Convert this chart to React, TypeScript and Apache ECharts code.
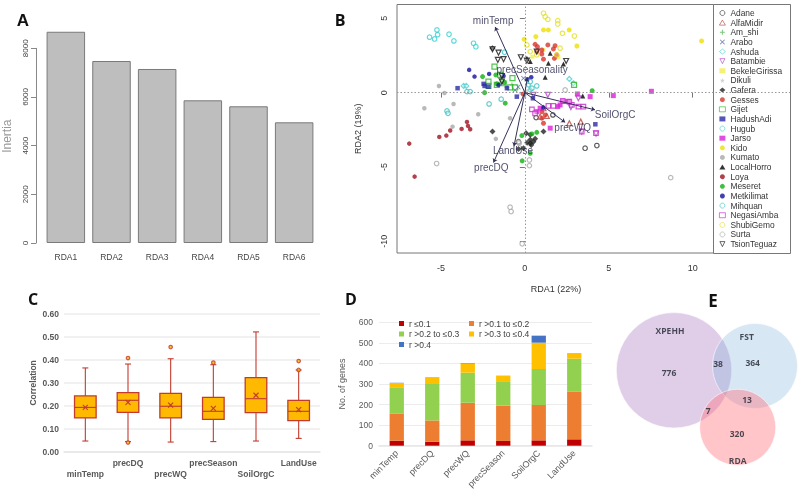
import React, { useEffect, useRef } from "react";
import * as echarts from "echarts";

// Panel A
const rdaAxes = ["RDA1", "RDA2", "RDA3", "RDA4", "RDA5", "RDA6"];
const inertia = [8680, 7478, 7150, 5863, 5617, 4959];

// Panel B
const adane = [[3.59,-3.74],[4.29,-3.56],[0.67,-1.68],[1.67,-1.5],[-0.38,-3.3]];
const alfaMidir = [[2.65,-2.06],[3.33,-1.95],[1.31,-1.57],[0.91,-1.61],[1.11,-1.05]];
const amShi = [[-1.07,0.36],[-0.77,0.52],[-1.47,0.97]];
const arabo = [[-0.4,0.38],[-0.58,0.18],[-0.08,0.97]];
const ashuda = [[0.21,0.52],[0.32,0.18],[2.65,0.92],[2.89,0.63],[-3.65,0.45],[-3.49,0.45]];
const batambie = [[1.37,-0.15],[3.19,-0.38],[2.74,-0.98],[3.39,-2.62],[4.24,-2.76],[0.51,-0.15]];
const bekeleGirissa = [[0.45,2.42],[1.11,2.87],[2,2.38]];
const dikuli = [[-0.25,-0.05],[0.1,0.1],[0,-0.2]];
const gafera = [[-1.93,-2.62],[1.11,-2.62],[-1.93,2.99],[0.32,-3.17],[0.14,-3.38],[0.38,-3.52],[0.61,-3.11],[0.08,-2.73],[0.32,-3.4],[-0.38,-3.79],[-0.08,-3.74],[0.32,-2.84],[0.51,-3.3]];
const gesses = [[0.61,3.25],[0.75,3.09],[1.37,3.21],[1.8,3.16],[1.7,2.94],[1.01,2.87],[0.71,2.76],[1.11,2.25],[1.76,2.31],[1.9,2.54],[1.01,2.6],[1.01,-1.28],[1.21,-1.5],[1.01,-1.72],[1.11,-2.06],[-0.1,-0.1]];
const gijet = [[-1.81,1.75],[-0.74,0.97],[-2.17,0.74],[-2.17,0.45],[-1.47,1.19],[-1.27,0.63],[-1.67,0.52],[-0.87,0.36],[-0.58,0.36],[2.93,0.52]];
const hadushAdi = [[-4.01,0.3],[-2.46,0.59],[-2.4,0.45],[-2.17,0.4],[-1.07,0.3],[-0.48,-0.27],[0.48,-0.38],[4.2,-2.13]];
const hugub = [[-5.68,3.73],[-5.38,3.61],[-5.2,3.9],[-5.24,4.22],[-4.52,3.93],[-4.23,3.48],[-3.06,3.32],[-2.92,3.09],[-1.21,2.72]];
const jarso = [[5.27,-0.2],[7.54,0.09],[3.89,-0.27],[3.13,-0.09],[2.6,-0.6],[2.3,-0.6],[2.1,-0.83],[1.96,-0.94],[1.51,-2.39],[0.91,-1.05],[0.71,-1.28]];
const kido = [[-0.04,3.59],[0.65,3.77],[1.11,4.22],[1.4,4.22],[2.64,4.22],[10.53,3.48],[3.1,3.14]];
const kumato = [[-5.12,0.45],[-4.79,-0.02],[-5.99,-1.05],[-4.25,-0.76],[-2.78,-1.45],[-4.31,-2.29],[-1.73,-3.11],[-0.88,-1.72]];
const localHorro = [[1.51,2.65],[2.3,1.93],[0.32,2.09],[1.4,1.98],[1.21,1.04],[0.12,2.31],[3.45,-0.22]];
const loya = [[-6.89,-3.43],[-6.57,-5.65],[-5.1,-2.98],[-4.68,-2.89],[-4.45,-2.55],[-3.77,-2.44],[-3.45,-1.97],[-3.39,-2.24],[-3.26,-2.46]];
const meseret = [[-2.52,1.08],[-2.4,0],[-1.73,1.19],[-1.23,0.67],[-1.17,-0.71],[-1.67,0.59],[4.01,0.13],[-0.16,-4.59],[0.42,-2.78],[-0.18,-2.89],[0.71,-2.67],[0.32,-4.08]];
const metkilimat = [[-3.32,1.53],[-3,1.08],[-2.13,1.26],[-1.27,1.12],[-1.57,0.52],[0.15,0.9],[0.38,1.04],[1.11,-1.01]];
const mihquan = [[-3.45,0.07],[-3.26,0.07],[-2.13,-0.76],[-1.41,-0.44],[0.32,0.74],[0.71,0.45],[0.42,0.3],[-4.64,-1.23],[-4.58,-1.39]];
const negasiAmba = [[0.42,-1.12],[0.61,-1.39],[1.4,-0.89],[1.7,-0.89],[2.8,-0.83],[3.19,-0.94],[3.49,-0.94],[3.39,-2.62],[4.24,-2.73],[2.65,-0.6],[2.26,-0.56]];
const shubiGemo = [[1.11,5.34],[1.21,5.11],[1.37,4.93],[1.96,4.84],[1.96,4.62],[2.24,3.99],[2.95,3.81],[0.12,3.21],[0.32,2.76],[0.71,2.54],[2.1,2.99],[1.9,2.54]];
const surta = [[2.4,0.18],[-0.88,-7.71],[-0.82,-8],[-0.16,-10.17],[-5.26,-4.77],[-0.34,-3.4],[0.27,-4.53],[0.27,-4.91],[8.69,-5.72],[-0.38,-3.33]];
const tsionTeguaz = [[-1.57,2.69],[-1.27,2.25],[-1.61,2.2],[-0.24,2.38],[0.12,2.15],[2.46,2.13],[0.71,2.76],[-1.93,2.92],[-1.37,1.12],[-1.37,0.74]];

const envNames = ["minTemp", "precSeasonality", "SoilOrgC", "precWQ", "LandUse", "precDQ"];
const envTips = [[-1.77,4.42],[0.15,1.0],[4.18,-1.16],[2.4,-2.0],[-0.65,-3.6],[-1.87,-4.7]];
const envLabelAt = [[-1.89,4.84],[0.43,1.53],[5.38,-1.5],[2.85,-2.35],[-0.71,-3.92],[-2.0,-5.04]];
const rdaTicksX = [-5, 0, 5, 10];
const rdaTicksY = [-10, -5, 0, 5];

// Panel C
const envCats = ["minTemp", "precDQ", "precWQ", "precSeason", "SoilOrgC", "LandUse"];
const whiskerLow = [0.0465, 0.044, 0.042, 0.044, 0.0465, 0.058];
const quart1 = [0.147, 0.171, 0.147, 0.141, 0.17, 0.135];
const medians = [0.193, 0.224, 0.198, 0.176, 0.231, 0.176];
const quart3 = [0.243, 0.257, 0.254, 0.237, 0.323, 0.224];
const whiskerHigh = [0.365, 0.382, 0.405, 0.379, 0.522, 0.356];
const means = [0.193, 0.215, 0.203, 0.189, 0.246, 0.183];
const outliers = [[1, 0.408], [1, 0.04], [2, 0.456], [3, 0.388], [5, 0.395], [5, 0.356]];

// Panel D
const geneCats = ["minTemp", "precDQ", "precWQ", "precSeason", "SoilOrgC", "LandUse"];
const rBin1 = [24, 19, 26, 23, 26, 31];
const rBin2 = [133, 104, 183, 172, 172, 233];
const rBin3 = [127, 177, 146, 115, 175, 159];
const rBin4 = [21, 32, 45, 29, 128, 26];
const rBin5 = [1, 1, 2, 1, 34, 1];

// Panel E
const vennNames = ["XPEHH", "FST", "RDA"];
const vennPoints = [[74, 85.3], [155, 81], [137.7, 142.3]];
const vennDiameters = [115.4, 85, 76];
const vennTexts = ["XPEHH", "776", "FST", "364", "38", "13", "7", "320", "RDA"];
const vennTextAt = [[70,45],[69,87],[146.7,51.7],[152.7,77],[118,78.7],[147,114.7],[108.3,125],[137,148.3],[137.7,175.7]];

const invTri = "path://M0 0H10L5 10Z";
const plus = "path://M4 0H6V4H10V6H6V10H4V6H0V4H4Z";
const cross = "path://M1 0L5 4L9 0L10 1L6 5L10 9L9 10L5 6L1 10L0 9L4 5L0 1Z";
const star = "path://M5 0L6.2 3.5L10 3.6L7 6L8 10L5 7.6L2 10L3 6L0 3.6L3.8 3.5Z";

type Site = [string, number[][], string, string, boolean, number];
const sites: Site[] = [
  ["Adane", adane, "circle", "#333333", true, 4.5],
  ["AlfaMidir", alfaMidir, "triangle", "#B0463E", true, 5],
  ["Am_shi", amShi, plus, "#5CB85C", false, 5],
  ["Arabo", arabo, cross, "#3F4D9E", false, 5],
  ["Ashuda", ashuda, "diamond", "#4FCFCF", true, 5],
  ["Batambie", batambie, invTri, "#B040C8", true, 5],
  ["BekeleGirissa", bekeleGirissa, "rect", "#F2EE50", false, 4],
  ["Dikuli", dikuli, star, "#C8C8C8", false, 5],
  ["Gafera", gafera, "diamond", "#222222", false, 6],
  ["Gesses", gesses, "circle", "#D9352A", false, 5],
  ["Gijet", gijet, "rect", "#25B525", true, 5],
  ["HadushAdi", hadushAdi, "rect", "#2A2AA8", false, 4.5],
  ["Hugub", hugub, "circle", "#35D0D0", true, 4.5],
  ["Jarso", jarso, "rect", "#D820D8", false, 5],
  ["Kido", kido, "circle", "#EEE000", false, 5],
  ["Kumato", kumato, "circle", "#A8A8A8", false, 4.5],
  ["LocalHorro", localHorro, "triangle", "#000000", false, 5],
  ["Loya", loya, "circle", "#A01020", false, 4.5],
  ["Meseret", meseret, "circle", "#10B010", false, 5],
  ["Metkilimat", metkilimat, "circle", "#1010A0", false, 4.5],
  ["Mihquan", mihquan, "circle", "#40C0C0", true, 4.5],
  ["NegasiAmba", negasiAmba, "rect", "#C828C8", true, 4.5],
  ["ShubiGemo", shubiGemo, "circle", "#E2E020", true, 4.5],
  ["Surta", surta, "circle", "#A8A8A8", true, 4.5],
  ["TsionTeguaz", tsionTeguaz, invTri, "#111111", true, 5],
];

const sans = "Liberation Sans";
const grey = "#595959";
const boxLine = "#C23B2E";

const letter = (t: string, x: number, y: number, size = 16, font = "Open Sans") => ({
  type: "text", x, y, z: 10,
  style: { text: t, fill: "#111", font: `bold ${size}px "${font}"`, textAlign: "center", textVerticalAlign: "middle" },
});

function buildOption() {
  const series: any[] = [];

  series.push({
    name: "Inertia", type: "bar", xAxisIndex: 0, yAxisIndex: 0, data: inertia, barWidth: 38.5, clip: false,
    itemStyle: { color: "#BEBEBE", borderColor: "#7A7A7A", borderWidth: 1 }, silent: true,
  });

  series.push({
    name: "zero", type: "scatter", xAxisIndex: 1, yAxisIndex: 1, data: [[0, 0]], symbolSize: 0, silent: true, z: 1,
    markLine: {
      silent: true, symbol: "none", label: { show: false }, animation: false,
      lineStyle: { color: "#999", type: [1.5, 2], width: 1 },
      data: [{ xAxis: 0 }, { yAxis: 0 }],
    },
  });
  sites.forEach(([name, data, symbol, color, hollow, size]) => {
    series.push({
      name, type: "scatter", xAxisIndex: 1, yAxisIndex: 1, data, symbol, symbolSize: size, silent: true,
      itemStyle: hollow
        ? { color: "rgba(255,255,255,0.4)", borderColor: color, borderWidth: 1.2 }
        : { color, borderWidth: 0 },
    });
  });
  series.push({
    name: "env", type: "scatter", xAxisIndex: 1, yAxisIndex: 1, symbolSize: 0, silent: true, z: 3,
    data: envLabelAt.map((value, i) => ({ value, name: envNames[i] })),
    label: {
      show: true, position: "inside", formatter: "{b}", color: "#26264A",
      fontFamily: sans, fontSize: 10,
    },
    markLine: {
      silent: true, symbol: ["none", "arrow"], symbolSize: 4, label: { show: false }, animation: false, precision: 4,
      lineStyle: { color: "#33335A", type: "solid", width: 1 },
      data: envTips.map((t) => [{ coord: [0, 0] }, { coord: t }]),
    },
  });

  series.push({
    name: "correlation", type: "custom", xAxisIndex: 2, yAxisIndex: 2, silent: true,
    data: envCats.map((_, i) => [i, whiskerLow[i], quart1[i], medians[i], quart3[i], whiskerHigh[i], means[i]]),
    encode: { x: 0, y: [1, 2, 3, 4, 5, 6] },
    renderItem: (_: any, api: any) => {
      const i = api.value(0);
      const X = api.coord([i, 0])[0];
      const Y = (k: number) => api.coord([i, api.value(k)])[1];
      const ln = (x1: number, y1: number, x2: number, y2: number, w = 1.1) => ({
        type: "line", shape: { x1, y1, x2, y2 }, style: { stroke: boxLine, lineWidth: w },
      });
      const hw = 10.8, cap = 3;
      const m = Y(6);
      return {
        type: "group",
        children: [
          ln(X, Y(1), X, Y(2)), ln(X, Y(4), X, Y(5)),
          ln(X - cap, Y(1), X + cap, Y(1)), ln(X - cap, Y(5), X + cap, Y(5)),
          { type: "rect", shape: { x: X - hw, y: Y(4), width: 2 * hw, height: Y(2) - Y(4) },
            style: { fill: "#FFB900", stroke: boxLine, lineWidth: 1.3 } },
          ln(X - hw, Y(3), X + hw, Y(3)),
          ln(X - 2.5, m - 2.5, X + 2.5, m + 2.5), ln(X - 2.5, m + 2.5, X + 2.5, m - 2.5),
        ],
      };
    },
  });
  series.push({
    name: "outliers", type: "scatter", xAxisIndex: 2, yAxisIndex: 2, data: outliers, symbolSize: 3.5, silent: true,
    itemStyle: { color: "#F7B500", borderColor: boxLine, borderWidth: 1.2 },
  });

  const bins: [string, number[], string][] = [
    ["r ≤0.1", rBin1, "#C00000"],
    ["r >0.1 to ≤0.2", rBin2, "#ED7D31"],
    ["r >0.2 to ≤0.3", rBin3, "#92D050"],
    ["r >0.3 to ≤0.4", rBin4, "#FFC000"],
    ["r >0.4", rBin5, "#4472C4"],
  ];
  bins.forEach(([name, data, color]) => {
    series.push({
      name, type: "bar", xAxisIndex: 3, yAxisIndex: 3, stack: "genes", data, barWidth: 14.3, silent: true,
      itemStyle: { color },
    });
  });

  series.push({
    name: "venn", type: "scatter", xAxisIndex: 4, yAxisIndex: 4, silent: true,
    data: vennNames.map((name, i) => ({
      name, value: vennPoints[i], symbolSize: vennDiameters[i],
      itemStyle: {
        color: ["rgba(170,120,195,0.45)", "rgba(120,170,215,0.36)", "rgba(255,110,120,0.5)"][i],
        borderColor: "rgba(255,255,255,0.7)", borderWidth: 1,
      },
    })),
  });
  series.push({
    name: "vennText", type: "scatter", xAxisIndex: 4, yAxisIndex: 4, silent: true, symbolSize: 0, z: 4,
    data: vennTexts.map((name, i) => ({ name, value: vennTextAt[i] })),
    label: { show: true, position: "inside", formatter: "{b}", color: "#1F2430", fontFamily: "Open Sans", fontWeight: "bold", fontSize: 8.5 },
  });

  return {
    animation: false,
    backgroundColor: "#fff",
    graphic: [
      { type: "rect", z: 3, shape: { x: 713.5, y: 4.5, width: 77, height: 249 }, style: { fill: "#fff", stroke: "#777", lineWidth: 1 } },
      letter("A", 23, 20, 17, "Liberation Sans"),
      letter("B", 340, 20),
      letter("C", 33, 299),
      letter("D", 351, 299),
      letter("E", 713, 300, 17),
    ],
    legend: [
      {
        data: sites.map((s) => s[0]), orient: "vertical", left: 719, top: 9, padding: 0, itemWidth: 6, itemHeight: 5, itemGap: 1.63,
        selectedMode: false, textStyle: { fontFamily: sans, fontSize: 8.4, color: "#333" }, itemStyle: { borderWidth: 0.8 },
      },
      {
        data: ["r ≤0.1", "r >0.2 to ≤0.3", "r >0.4"], orient: "vertical", left: 399, top: 319, padding: 0, itemWidth: 5, itemHeight: 5, itemGap: 1.5,
        selectedMode: false, icon: "rect", textStyle: { fontFamily: sans, fontSize: 8.5, color: "#404040" },
      },
      {
        data: ["r >0.1 to ≤0.2", "r >0.3 to ≤0.4"], orient: "vertical", left: 469, top: 319, padding: 0, itemWidth: 5, itemHeight: 5, itemGap: 1.5,
        selectedMode: false, icon: "rect", textStyle: { fontFamily: sans, fontSize: 8.5, color: "#404040" },
      },
    ],
    grid: [
      { left: 43, top: 48.3, width: 274, height: 194.7 },
      { left: 397, top: 4.5, width: 393, height: 248.5, show: true, backgroundColor: "#fff", borderColor: "#777", borderWidth: 1 },
      { left: 64, top: 314, width: 256, height: 137.7 },
      { left: 379, top: 322.3, width: 213, height: 123.4 },
      { left: 600, top: 285, width: 200, height: 208 },
    ],
    xAxis: [
      {
        gridIndex: 0, type: "category", data: rdaAxes, axisLine: { show: false }, axisTick: { show: false },
        axisLabel: { margin: 9, fontFamily: sans, fontSize: 8.5, color: "#444" },
      },
      {
        gridIndex: 1, type: "value", min: -7.62, max: 15.8, axisLine: { show: false }, splitLine: { show: false },
        name: "RDA1 (22%)", nameLocation: "middle", nameGap: 31,
        nameTextStyle: { fontFamily: sans, fontSize: 9, color: "#333", padding: [0, 75, 0, 0] },
        axisTick: { length: 5, lineStyle: { color: "#777" }, customValues: rdaTicksX },
        axisLabel: { margin: 10, fontFamily: sans, fontSize: 9, color: "#333", customValues: rdaTicksX },
      },
      {
        gridIndex: 2, type: "category", data: envCats, axisLine: { lineStyle: { color: "#E6E6E6", width: 1.5 } }, axisTick: { show: false },
        axisLabel: {
          interval: 0, margin: 6, lineHeight: 11, fontFamily: sans, fontSize: 8.5, fontWeight: "bold", color: grey, hideOverlap: false,
          formatter: (v: string, i: number) => (i % 2 === 0 ? "\n" + v : v),
        },
      },
      {
        gridIndex: 3, type: "category", data: geneCats, axisLine: { lineStyle: { color: "#E6E6E6", width: 1.5 } }, axisTick: { show: false },
        axisLabel: { interval: 0, rotate: 45, margin: 6, fontFamily: sans, fontSize: 9, color: grey },
      },
      { gridIndex: 4, type: "value", min: 0, max: 200, show: false },
    ],
    yAxis: [
      {
        gridIndex: 0, type: "value", min: 0, max: 8000, interval: 2000, offset: 7, splitLine: { show: false },
        name: "Inertia", nameLocation: "middle", nameGap: 23, nameRotate: 90,
        nameTextStyle: { fontFamily: sans, fontSize: 12, color: "#999", padding: [0, 0, 0, 19] },
        axisLine: { show: true, lineStyle: { color: "#888" } },
        axisTick: { show: true, length: 5, lineStyle: { color: "#888" } },
        axisLabel: { rotate: 90, margin: 7, fontFamily: sans, fontSize: 8, color: "#444", formatter: (v: number) => String(v) },
      },
      {
        gridIndex: 1, type: "value", min: -10.79, max: 5.93, axisLine: { show: false }, splitLine: { show: false },
        name: "RDA2 (19%)", nameLocation: "middle", nameGap: 35, nameRotate: 90,
        nameTextStyle: { fontFamily: sans, fontSize: 9, color: "#333" },
        axisTick: { show: true, length: 5, lineStyle: { color: "#777" }, customValues: rdaTicksY },
        axisLabel: { rotate: 90, margin: 9, fontFamily: sans, fontSize: 9, color: "#333", customValues: rdaTicksY },
      },
      {
        gridIndex: 2, type: "value", min: 0, max: 0.6, interval: 0.1, axisLine: { show: false }, axisTick: { show: false },
        name: "Correlation", nameLocation: "middle", nameGap: 27, nameRotate: 90,
        nameTextStyle: { fontFamily: sans, fontSize: 8.5, fontWeight: "bold", color: grey },
        splitLine: { lineStyle: { color: "#ECECEC", width: 1.5 } },
        axisLabel: { margin: 5, fontFamily: sans, fontSize: 8.5, fontWeight: "bold", color: grey, formatter: (v: number) => v.toFixed(2) },
      },
      {
        gridIndex: 3, type: "value", min: 0, max: 600, interval: 100, axisLine: { show: false }, axisTick: { show: false },
        name: "No. of genes", nameLocation: "middle", nameGap: 33, nameRotate: 90,
        nameTextStyle: { fontFamily: sans, fontSize: 9, color: grey },
        splitLine: { lineStyle: { color: "#ECECEC", width: 1 } },
        axisLabel: { margin: 6, fontFamily: sans, fontSize: 8.5, color: grey },
      },
      { gridIndex: 4, type: "value", min: 0, max: 208, inverse: true, show: false },
    ],
    series,
  };
}

export default function App() {
  const ref = useRef<HTMLDivElement>(null);
  useEffect(() => {
    document.body.style.margin = "0";
    const chart = echarts.init(ref.current!, undefined, { renderer: "svg" });
    chart.setOption(buildOption() as any);
    return () => chart.dispose();
  }, []);
  return <div ref={ref} style={{ position: "fixed", left: 0, top: 0, width: 800, height: 493, filter: "blur(0.35px)" }} />;
}
